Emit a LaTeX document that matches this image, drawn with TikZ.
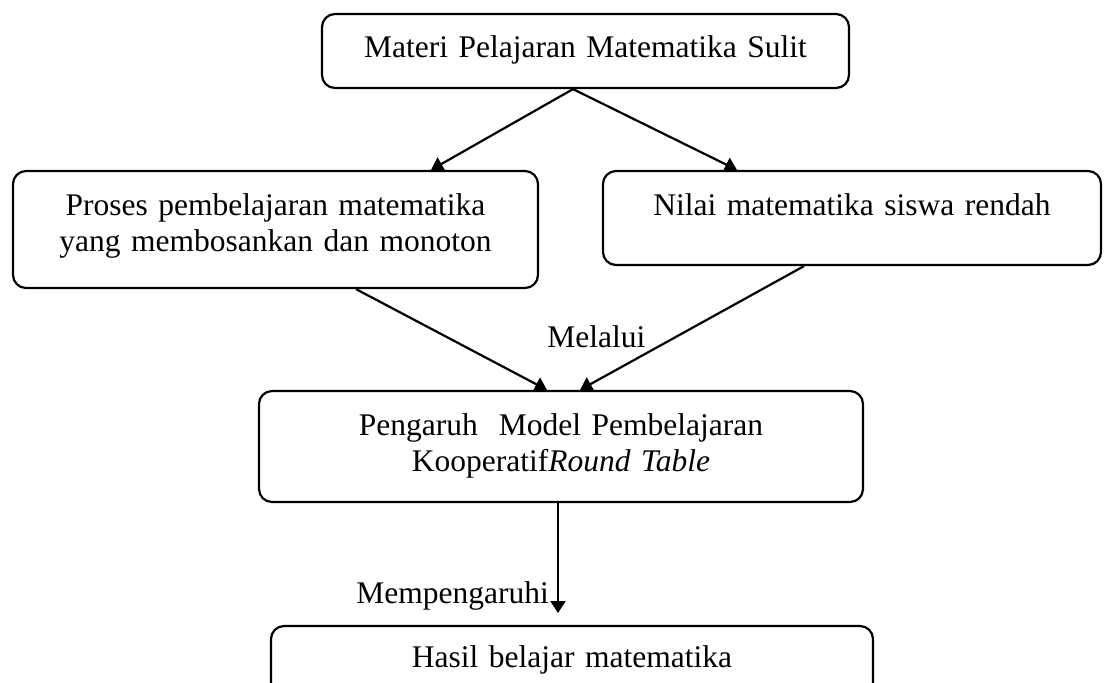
\documentclass[tikz,border=0pt]{standalone}
\usepackage{fontspec}
\setmainfont{Liberation Serif}
\usetikzlibrary{arrows.meta,calc}
\begin{document}
\begin{tikzpicture}[x=0.5pt,y=-0.5pt,
  txt/.style={font=\fontsize{15.75pt}{18.35pt}\selectfont},
  box/.style={txt, draw, line width=1.1pt, rounded corners=6.5pt, inner sep=0pt, align=center, anchor=base},
  lbl/.style={txt, inner sep=0pt, anchor=base west},
  arr/.style={line width=1.1pt, -{Triangle[length=6pt,width=7.5pt]}}]
\useasboundingbox (0,0) rectangle (1112,682);
\clip (0,0) rectangle (1112,682);
\node[box, text width=263.5pt, text height=21.5pt, text depth=15.5pt] (b1) at (585.5,57) {Materi Pelajaran Matematika Sulit};
\node[box, text width=262.5pt, text height=22pt, text depth=36.5pt] (b2) at (275.5,215) {Proses pembelajaran matematika\\yang membosankan dan monoton};
\node[box, text width=249pt, text height=22pt, text depth=25pt] (b3) at (852,215) {Nilai matematika siswa rendah};
\node[box, text width=302pt, text height=22pt, text depth=33.5pt] (b4) at (561,435) {Pengaruh~ Model Pembelajaran\\Kooperatif\textit{Round Table}};
\node[box, text width=301pt, text height=20.5pt, text depth=30pt] (b5) at (572,667) {Hasil belajar matematika};
\coordinate (t5) at (558,613);
\draw[arr] ($(b1.south)+(-12.5,0)$) -- ($(b2.north)+(155.5,0)$);
\draw[arr] ($(b1.south)+(-12.5,0)$) -- ($(b3.north)+(-115,0)$);
\draw[arr] ($(b2.south)+(80.5,0)$) -- ($(b4.north)+(-14,0)$);
\draw[arr] ($(b3.south)+(-48,0)$) -- ($(b4.north)+(19,0)$);
\draw[arr] ($(b4.south)+(-3,0)$) -- (t5);
\node[lbl] (m1) at (547,347) {Melalui};
\node[lbl] (m2) at (356,603) {Mempengaruhi};
\end{tikzpicture}
\end{document}
